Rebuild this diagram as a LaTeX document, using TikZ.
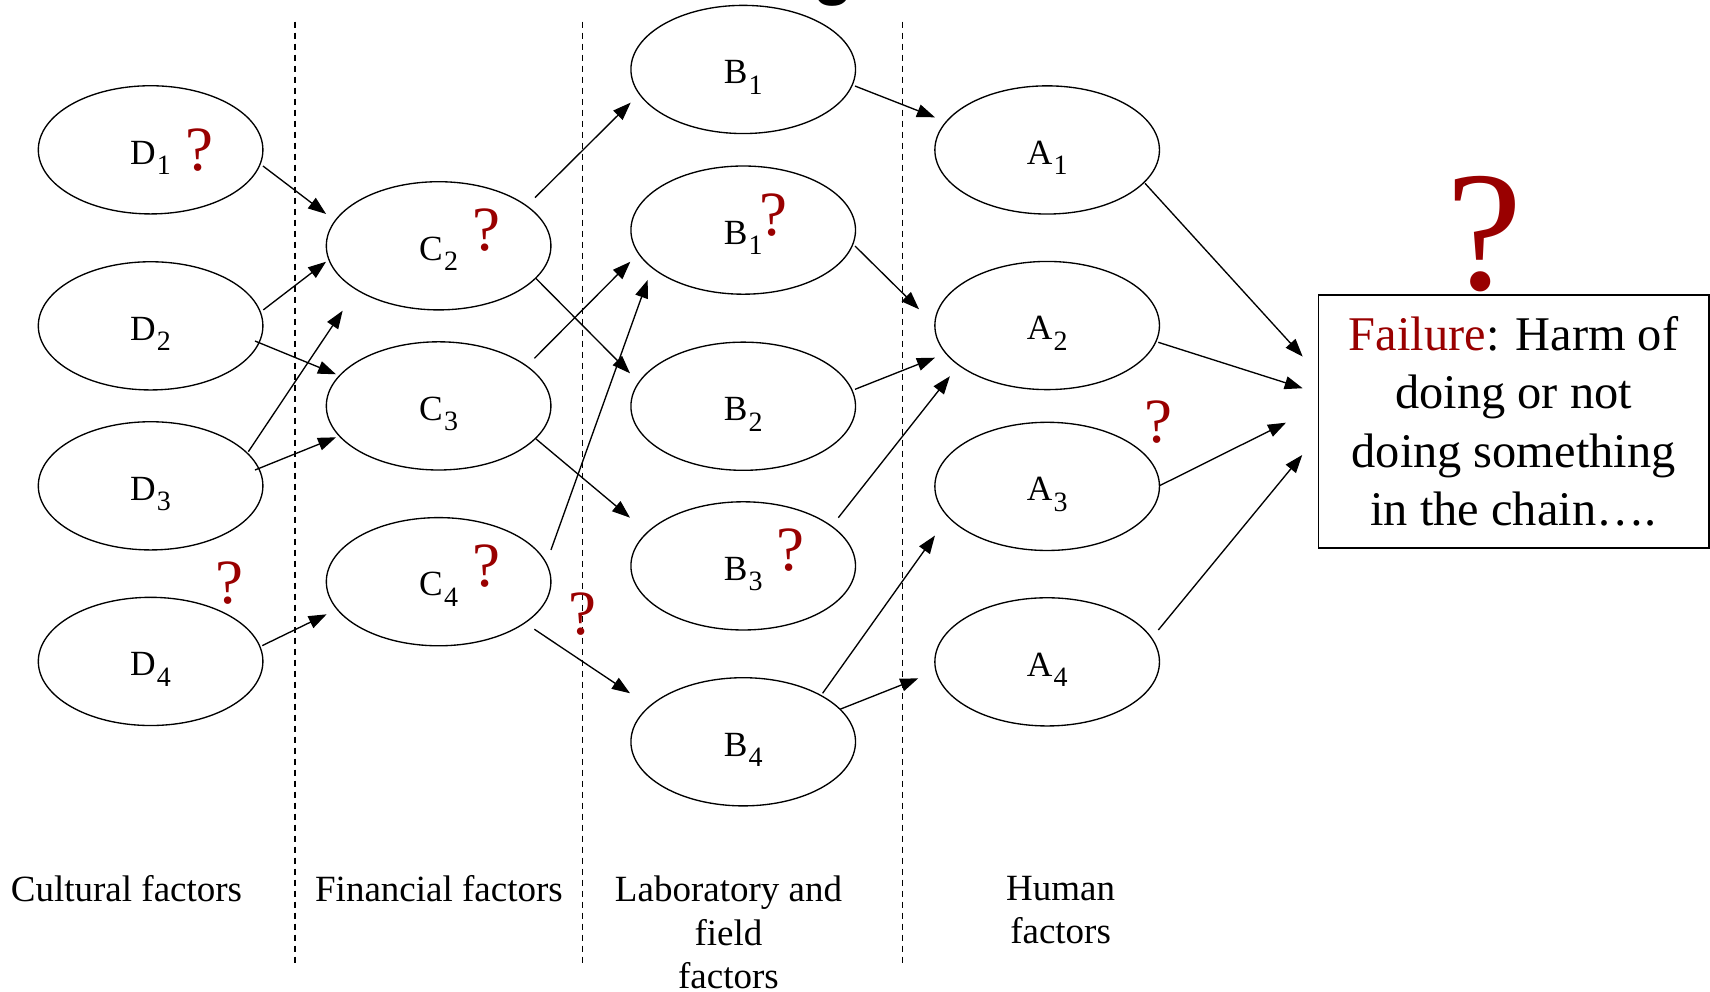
\documentclass[tikz,border=0pt]{standalone}
\usepackage{fontspec}
\setmainfont{Liberation Serif}
\newfontfamily\titlefont{Liberation Sans}
\usetikzlibrary{arrows.meta,calc,shapes.geometric}
\definecolor{qred}{RGB}{153,0,0}
\newcommand\lsub[1]{\kern0.6pt\raisebox{-5.3pt}{\fontsize{14}{14}\selectfont #1}}
\begin{document}
\begin{tikzpicture}[x=0.5453pt,y=-0.5453pt,
  fac/.style={ellipse, draw, line width=0.67pt, minimum width=112.3pt, minimum height=64.1pt, inner sep=0pt, font=\fontsize{17.7}{17.7}\selectfont, text height=14.2pt, text depth=0pt},
  arr/.style={line width=0.67pt, -{Triangle[length=9pt,width=6.5pt]}},
  sep/.style={dash pattern=on 3.3pt off 2.2pt, line width=0.65pt},
  qm/.style={text=qred, inner sep=0pt, font=\fontsize{31.5}{31.5}\selectfont},
  cat/.style={anchor=north, align=center, inner sep=0pt, font=\fontsize{18.5}{21.8}\selectfont},
  failbox/.style={draw, line width=0.85pt, minimum width=195.2pt, minimum height=126.7pt, inner sep=0pt, align=center, font=\fontsize{24.2}{29.1}\selectfont}
]
\useasboundingbox (0,0) rectangle (1568,909.6);

% cut-off title fragment
\node[anchor=base, inner sep=0pt, font=\titlefont\bfseries\fontsize{32.7}{32.7}\selectfont] (T) at (764,-7) {g};

% separators
\draw[sep] (270.5,19.9) -- (270.5,887);
\draw[sep] (534.3,19.9) -- (534.3,887);
\draw[sep] (827.7,19.9) -- (827.7,887);

% nodes
\node[fac] (D1) at (138.1,137.4) {D\lsub{1}};
\node[fac] (D2) at (138.1,298.8) {D\lsub{2}};
\node[fac] (D3) at (138.1,445.5) {D\lsub{3}};
\node[fac] (D4) at (138.1,606.5) {D\lsub{4}};
\node[fac] (C2) at (402.2,225.4) {C\lsub{2}};
\node[fac] (C3) at (402.2,372.2) {C\lsub{3}};
\node[fac] (C4) at (402.2,533.4) {C\lsub{4}};
\node[fac] (B1) at (681.5,63.7) {B\lsub{1}};
\node[fac] (B1b) at (681.5,211) {B\lsub{1}};
\node[fac] (B2) at (681.5,372.5) {B\lsub{2}};
\node[fac] (B3) at (681.5,518.9) {B\lsub{3}};
\node[fac] (B4) at (681.5,680.2) {B\lsub{4}};
\node[fac] (A1) at (960.2,137.5) {A\lsub{1}};
\node[fac] (A2) at (960.2,298.5) {A\lsub{2}};
\node[fac] (A3) at (960.2,446) {A\lsub{3}};
\node[fac] (A4) at (960.2,606.9) {A\lsub{4}};
\node[failbox] (F) at (1387.9,386.4) {\textcolor{qred}{Failure}: Harm of\\doing or not\\doing something\\in the chain….};

% question marks
\node[qm] (q1) at (183,138) {?};
\node[qm] (q2) at (446,211.4) {?};
\node[qm] (q3) at (709,197) {?};
\node[qm] (q4) at (725,504) {?};
\node[qm] (q5) at (446,519) {?};
\node[qm] (q6) at (210,535) {?};
\node[qm] (q7) at (534,563) {?};
\node[qm] (q8) at (1062,387.4) {?};
\node[text=qred, inner sep=0pt, font=\fontsize{85.5}{85.5}\selectfont] (qbig) at (1361.4,215.1) {?};

% connectors
\draw[arr] ($(D1)+(103,14.8)$) -- ($(C2)+(-103.2,-29.2)$);
\draw[arr] ($(D2)+(103.3,-14.6)$) -- ($(C2)+(-103.2,14.6)$);
\draw[arr] ($(D2)+(95.7,13.9)$) -- ($(C3)+(-94.1,-29)$);
\draw[arr] ($(D3)+(89.6,-31.3)$) -- ($(C2)+(-88,59.5)$);
\draw[arr] ($(D3)+(95.7,-14.5)$) -- ($(C3)+(-94.1,28.8)$);
\draw[arr] ($(D4)+(102.4,-14.5)$) -- ($(C4)+(-102.7,29.9)$);
\draw[arr] ($(C2)+(88.4,-44.2)$) -- ($(B1)+(-103.2,30.4)$);
\draw[arr] ($(C2)+(89.1,29.8)$) -- ($(B2)+(-103.8,-30.2)$);
\draw[arr] ($(C3)+(87.8,-43.6)$) -- ($(B1b)+(-103.5,29)$);
\draw[arr] ($(C3)+(89.3,30.3)$) -- ($(B3)+(-103.8,-44.2)$);
\draw[arr] ($(C4)+(103,-29.1)$) -- ($(B1b)+(-87.6,45.7)$);
\draw[arr] ($(C4)+(87.8,43.6)$) -- ($(B4)+(-103.8,-44.5)$);
\draw[arr] ($(B1)+(102.5,15.2)$) -- ($(A1)+(-102.9,-29.9)$);
\draw[arr] ($(B1b)+(102.5,14.6)$) -- ($(A2)+(-117.5,-14.9)$);
\draw[arr] ($(B2)+(102.5,-15.5)$) -- ($(A2)+(-102.9,29.5)$);
\draw[arr] ($(B3)+(87.2,-44.2)$) -- ($(A2)+(-89.2,46.5)$);
\draw[arr] ($(B4)+(72.8,-44.5)$) -- ($(A3)+(-102.9,45.1)$);
\draw[arr] ($(B4)+(88.7,-29.8)$) -- ($(A4)+(-118.2,15.1)$);
\draw[arr] ($(A1)+(89.7,30.6)$) -- ($(F)+(-193.4,-59.4)$);
\draw[arr] ($(A2)+(101.9,15.4)$) -- ($(F)+(-193.4,-30.4)$);
\draw[arr] ($(A3)+(103.4,-0.8)$) -- ($(F)+(-208.7,1.2)$);
\draw[arr] ($(A4)+(101.9,-29.2)$) -- ($(F)+(-193.8,30.8)$);

% column labels
\node[cat] (L1) at (116,802.8) {Cultural factors};
\node[cat] (L2) at (402.5,802.8) {Financial factors};
\node[cat] (L3) at (668,802.8) {Laboratory and\\field\\factors};
\node[cat] (L4) at (972.5,802.8) {Human\\factors};
\end{tikzpicture}
\end{document}
